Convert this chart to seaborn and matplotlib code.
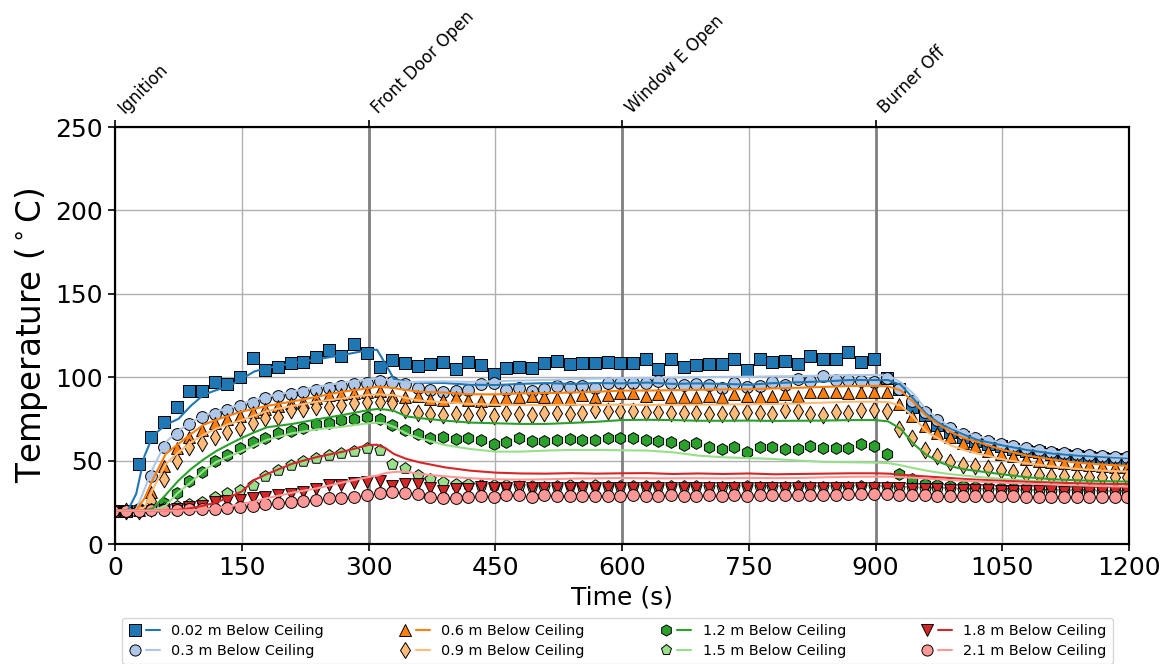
import numpy as np
import pandas as pd
import matplotlib
matplotlib.use("Agg")
import matplotlib.pyplot as plt
from matplotlib.lines import Line2D
from matplotlib.legend_handler import HandlerTuple
import seaborn as sns

# ---- measured thermocouple samples (every 15 s) ----
t_meas = np.arange(-2, 1200, 15)

tc_002 = [20, 20, 47.8, 64, 73, 82, 91.7, 91.7, 97, 96, 100, 111.3, 104.3, 106.3, 108.3, 109.3,
          112, 116.3, 112.7, 120, 114.3, 106, 110.3, 108.5, 107, 108, 109, 104.7, 109, 107.3,
          102, 105.7, 106.3, 105.3, 108.3, 109.7, 108, 108.7, 108.7, 109, 108.3, 108.3, 110.7,
          105, 110.7, 106.3, 107.5, 108, 108, 110.7, 104.3, 110.7, 109, 110, 107.7, 112.7, 111,
          110.7, 115.3, 109.3, 111, 99.5, 92.7, 82, 77.3, 71.3, 67.3, 64, 62, 60, 58.5, 57, 56,
          55, 54, 53.3, 52.8, 52.2, 51.6, 51.2, 50.8]
tc_03 = [20, 20, 21, 41, 58, 66, 72, 76, 77.7, 80.3, 82.7, 84.7, 87.7, 88.9, 89.7, 90.9, 92.3,
         93.3, 94.9, 95.7, 96.3, 97.9, 97, 95.7, 93.3, 92.3, 91.3, 91.9, 92.3, 95.7, 96.3, 92.3,
         93.7, 91.9, 92.7, 94.7, 93.9, 94.7, 93.3, 96.7, 96.7, 96.7, 96.7, 97.7, 96.3, 95.3, 95.7,
         95.3, 93.3, 96.3, 94, 94.5, 96.9, 95.3, 98.9, 97.7, 100.9, 98.3, 98.3, 97.5, 97.3, 99.3,
         92.7, 85.9, 79.3, 74.3, 69.4, 66, 63.4, 61.5, 60, 58.7, 57.5, 56.4, 55.4, 54.8, 54.2,
         53.6, 53, 52.4, 52]
tc_06 = [20, 20, 20.5, 31, 47, 57.4, 64, 68.3, 72.4, 74.8, 76.7, 79.3, 80.7, 82.7, 84.7, 85.3,
         87.3, 89.3, 89.9, 90.3, 91.3, 91.7, 89.3, 88.3, 88.9, 86.7, 86.3, 88.3, 86.3, 85.9, 86.3,
         87.3, 88.3, 89, 88.3, 87.3, 86.9, 89.3, 88.3, 89.3, 90.3, 90.3, 88.9, 89.7, 88.3, 88.3,
         88.3, 89, 88.3, 89.7, 88.9, 88.3, 88.6, 89.7, 88.9, 90.9, 90.9, 91.1, 90.7, 91.3, 91.3,
         91.3, 84, 76.7, 70.7, 66.5, 64.3, 60.5, 58.5, 56, 54, 52.8, 51, 50, 49, 48.4, 47.8, 47.4,
         46.8, 46.4, 46.2]
tc_09 = [20, 19.5, 20, 26, 39, 50, 58, 60.4, 64.3, 67.3, 69.4, 72.7, 75.3, 76, 80.3, 80.9, 82,
         82.3, 83.3, 84.7, 85.3, 85.3, 84.7, 80.3, 78.3, 78, 77.3, 78, 77.3, 78.3, 76.7, 78.7, 78,
         77.3, 78.7, 78.3, 78, 78.7, 80.3, 79.7, 79.7, 80, 79.3, 79.3, 78.3, 78.7, 78.3, 78, 78,
         78.7, 79, 78.3, 78, 80.3, 79.7, 78, 77.3, 79.3, 78.3, 80.3, 80.3, 79.8, 69, 63.8, 56.2,
         52.8, 49.4, 47.6, 46.6, 45.4, 44.4, 43.4, 42.2, 41.6, 41, 40.6, 40.4, 40.4, 40.3, 40.3,
         40.2]
tc_12 = [20, 20, 20, 21, 24.6, 30.4, 37.8, 43.4, 50, 53.4, 57.4, 61, 63.4, 66.4, 67.7, 69.4,
         71.8, 72.7, 74.3, 74.7, 76, 74.7, 71.3, 68.3, 66, 63.4, 64, 63, 63.4, 62.4, 60, 61.3,
         63.4, 61.5, 61.9, 62.4, 63, 62.4, 62.4, 63.7, 63.4, 63.4, 62.4, 62, 61.3, 59.4, 60.4, 58,
         56.8, 58, 55.4, 58, 58, 57.2, 57.2, 58.8, 57.8, 57.4, 57.4, 60, 58.9, 54, 42, 38.8, 36,
         35.5, 34.8, 34.5, 34.4, 34, 33.8, 33.5, 33.3, 33.1, 33, 32.8, 32.6, 32.5, 32.4, 32.3, 32.2]
tc_15 = [20, 20, 20, 20.5, 21.5, 22.5, 24, 25.4, 28.4, 30.4, 32.4, 35.6, 41, 44.4, 47.4, 49.8,
         51.4, 53.4, 54.8, 56, 57.4, 56.5, 47.8, 45.6, 41.2, 39, 37, 36, 36, 35.6, 35.2, 35.2,
         34.8, 34.6, 34.4, 35, 35.2, 35, 35.2, 35, 35, 34.8, 35, 34.8, 34.6, 34.5, 34.5, 34.3,
         34.4, 34.4, 34.5, 34.3, 34.3, 34.4, 34.5, 34.4, 34.3, 34.4, 34.4, 34.5, 34.4, 34, 33.8,
         33.6, 33.2, 33, 32.8, 32.6, 32.5, 32.4, 32.2, 32.1, 32, 31.9, 31.8, 31.7, 31.6, 31.5,
         31.4, 31.3, 31.2]
tc_18 = [20, 19, 19.5, 20, 20.5, 21, 22, 23, 25.4, 26, 26.5, 27.4, 28.4, 29.4, 29.8, 31.4, 32.8,
         35.4, 35.4, 36.8, 37.4, 38, 34.8, 36, 36, 33.4, 32, 32.8, 32.8, 34.4, 33.8, 33.8, 34,
         33.8, 33.8, 33.4, 33.6, 33.4, 33.6, 33.4, 33.6, 33.4, 33.6, 33.5, 33.4, 33.6, 33.5, 33.6,
         33.4, 33.8, 33.5, 33.4, 33.6, 33.5, 33.8, 33.6, 33.6, 33.4, 33.6, 33.8, 33.8, 33.6, 33.4,
         33.2, 33, 32.8, 32.6, 32.4, 32.3, 32.2, 32, 31.9, 31.8, 31.6, 31.5, 31.4, 31.3, 31.2,
         31.1, 31, 30.9]
tc_21 = [20, 20, 20, 20.2, 20.4, 20.6, 20.8, 21, 21.2, 21.8, 22.4, 22.8, 24, 24.4, 25, 26, 26.4,
         27.4, 27.8, 28.4, 29.4, 30.4, 31, 30.4, 30, 28.4, 27.4, 27.4, 28.4, 28.8, 28, 29.4, 29.4,
         28.4, 29.4, 28.8, 29, 28.8, 29, 28.8, 29, 29.2, 28.8, 29, 29.2, 28.8, 29, 29.2, 29, 29.2,
         29, 29.2, 29.4, 29.2, 29.4, 29.6, 29.4, 29.6, 29.8, 30, 30.2, 30, 29.6, 29.4, 29.2, 29,
         28.9, 28.8, 28.7, 28.6, 28.5, 28.5, 28.4, 28.4, 28.3, 28.3, 28.2, 28.2, 28.1, 28.1, 28]

# ---- smoothed / predicted curves ----
t_line = [0, 15, 25, 35, 45, 60, 75, 90, 105, 120, 135, 150, 165, 180, 210, 240, 270, 300, 310,
          320, 330, 345, 360, 390, 420, 450, 480, 510, 540, 570, 600, 630, 660, 690, 720, 750,
          780, 810, 840, 870, 900, 915, 930, 945, 960, 975, 990, 1005, 1020, 1050, 1080, 1110,
          1140, 1170, 1200]

ln_002 = [20, 20, 30, 53, 65, 71.5, 75, 83, 89.5, 92.3, 94.6, 99, 103.5, 105.5, 108.4, 110.8,
          113.4, 116.3, 116.5, 108, 99, 97.2, 96.7, 96.5, 95.5, 95.3, 96, 96.5, 96, 96.5, 96.3,
          96.8, 96, 96.3, 96, 95.5, 96.5, 97, 97.5, 98.3, 98.3, 98.3, 95.5, 87, 78, 72.5, 69,
          65.5, 62.5, 59.2, 56.3, 54.2, 53, 52.2, 51.5]
ln_03 = [20, 20, 20.5, 33, 45.5, 61, 68, 73, 77, 79.5, 81.6, 84.2, 86.5, 88.4, 91.4, 94.4, 96.8,
         98.7, 99.3, 98.6, 97.8, 97, 97.3, 97.5, 97.2, 97.6, 98, 98.4, 98.8, 99.2, 99.5, 99.6,
         99.8, 100, 100.2, 100.3, 100.5, 100.7, 101, 101.3, 101.3, 101, 97, 90, 80.5, 74.5, 70,
         67, 64.8, 60.5, 57.8, 55.6, 54.2, 53.2, 52.3]
ln_06 = [20, 20, 20, 27.5, 39, 54, 60, 66, 71.5, 74.5, 77, 79.5, 81, 82.8, 85.5, 88.4, 91.4,
         93.4, 94.3, 94, 93.5, 92.3, 91.3, 90.8, 89.8, 89.7, 90.3, 90.5, 90.8, 91.3, 92, 92, 92.2,
         92.5, 92.7, 92.8, 93.3, 93.7, 94.2, 94.7, 94.8, 94.5, 92, 85, 77, 71.5, 67, 63.5, 61.3,
         56.5, 53, 50.6, 48.7, 47.6, 46.8]
ln_09 = [20, 20, 20, 22, 33, 48, 55, 61, 65.6, 69.2, 72, 74.2, 77, 79.8, 82.8, 85.4, 87.4, 89.4,
         89.7, 89.5, 89.2, 87.5, 86, 85, 84, 83.5, 83.4, 83.3, 83.5, 83.4, 83.6, 83.4, 83.5, 83.6,
         83.6, 83.8, 84, 84.3, 84.8, 85.3, 85.3, 85, 83, 76, 67.5, 63, 59, 56.3, 54.4, 50.8, 48.3,
         46.5, 45, 44, 43.4]
ln_12 = [20, 20, 20, 20, 21.5, 29.5, 38, 45, 50.8, 55.8, 59.8, 63.6, 67, 70, 72, 74.8, 77.4,
         80.3, 80.9, 80.6, 79.8, 76.5, 75.5, 74, 72.8, 72.4, 72, 72, 72.6, 73.3, 74.3, 74.5, 74.3,
         73.9, 73.9, 74, 73.8, 73.9, 74, 74.3, 74.3, 73.5, 69, 60, 53.5, 49.2, 46.5, 44.8, 43.8,
         41.8, 40, 38.8, 38.2, 37.7, 37.4]
ln_15 = [20, 20, 20, 20, 20, 23, 31, 37, 44, 49.2, 52.6, 55.6, 59, 62.5, 66.4, 68.8, 70.4, 72.4,
         72.7, 72.2, 70.2, 66.2, 63.5, 59.4, 57, 55.4, 55.4, 56, 56.4, 56.4, 56.2, 56, 55, 53, 52,
         51.5, 51, 50, 49.2, 49, 48.8, 48.5, 47.2, 45.5, 44, 42.8, 41.8, 41, 40.3, 39, 38, 37.2,
         36.5, 36, 35.6]
ln_18 = [20, 20, 20, 20, 20, 20, 20.5, 21.5, 23, 25, 28, 31.5, 38.5, 42, 48.2, 52.3, 55.4, 59.4,
         59.5, 57.5, 54, 51, 49, 46, 44, 42.8, 42.3, 42.2, 42.5, 42.2, 42.4, 42.5, 42, 42.3, 42,
         42.3, 41.8, 42, 42.2, 42.4, 42.4, 42.2, 41.6, 41, 40.5, 40, 39.5, 39, 38.6, 37.9, 37.3,
         36.8, 36.4, 36.1, 35.9]
ln_21 = [20, 20, 20, 20, 20, 20, 20, 20.3, 20.8, 21.5, 22.6, 24, 25.5, 27.5, 30.8, 33.5, 37,
         40.2, 41, 42.5, 43.2, 43.4, 42, 40.6, 39.4, 38.8, 38.6, 38.8, 39.2, 39.4, 39.6, 39.4,
         39.4, 39.5, 39.4, 39.6, 39.5, 39.6, 40, 40.3, 40.4, 40.4, 40.1, 39.7, 39.2, 38.8, 38.3,
         37.9, 37.5, 36.8, 36.2, 35.6, 35.1, 34.7, 34.4]

labels = ["0.02 m Below Ceiling", "0.3 m Below Ceiling", "0.6 m Below Ceiling",
          "0.9 m Below Ceiling", "1.2 m Below Ceiling", "1.5 m Below Ceiling",
          "1.8 m Below Ceiling", "2.1 m Below Ceiling"]
measured = [tc_002, tc_03, tc_06, tc_09, tc_12, tc_15, tc_18, tc_21]
curves = [ln_002, ln_03, ln_06, ln_09, ln_12, ln_15, ln_18, ln_21]
markers = ["s", "o", "^", "d", "h", "p", "v", "o"]
colors = sns.color_palette("tab20", 8)

event_times = [0, 300, 600, 900]
event_names = ["Ignition", "Front Door Open", "Window E Open", "Burner Off"]

# ---- figure ----
sns.set_style("ticks")
plt.rcParams["font.family"] = ["DejaVu Sans"]
plt.rcParams["text.color"] = "black"
plt.rcParams["axes.labelcolor"] = "black"
plt.rcParams["xtick.color"] = "black"
plt.rcParams["ytick.color"] = "black"

fig = plt.figure(figsize=(11.69, 6.64), dpi=100)
ax = fig.add_axes([0.0984, 0.1807, 0.8674, 0.628])

ax.grid(True, color="#b0b0b0", linewidth=1.0, zorder=0)
for et in event_times[1:]:
    ax.axvline(et, color="0.5", linewidth=2.0, zorder=1)

for i in range(8):
    sns.scatterplot(x=t_meas, y=measured[i], marker=markers[i], s=72, color=colors[i],
                    edgecolor="black", linewidth=0.7, ax=ax, zorder=3 + i, legend=False)
for i in range(8):
    sns.lineplot(x=t_line, y=curves[i], color=colors[i], linewidth=1.5, ax=ax,
                 zorder=12, legend=False)

handles = []
for i in range(8):
    mk = Line2D([], [], linestyle="none", marker=markers[i], markersize=8,
                markerfacecolor=colors[i], markeredgecolor="black", markeredgewidth=0.7)
    ln = Line2D([], [], color=colors[i], linewidth=1.5)
    handles.append((mk, ln))

ax.set_xlim(0, 1200)
ax.set_ylim(0, 250)
ax.set_xticks(np.arange(0, 1201, 150))
ax.set_yticks(np.arange(0, 251, 50))
ax.tick_params(axis="both", labelsize=18, direction="out", length=5, width=1.2,
               top=False, right=False, colors="black")
ax.set_xlabel("Time (s)", fontsize=18, color="black")
ax.set_ylabel("Temperature ($^\\circ$C)", fontsize=23.5, color="black")
for sp in ax.spines.values():
    sp.set_visible(True)
    sp.set_color("black")
    sp.set_linewidth(1.5)

# event markers along the top
top = ax.twiny()
top.set_xlim(ax.get_xlim())
top.set_xticks(event_times)
top.set_xticklabels(event_names, rotation=45, ha="left", va="bottom", fontsize=12,
                    color="black")
top.tick_params(axis="x", direction="out", length=5, width=1.2, pad=2, colors="black")
for sp in top.spines.values():
    sp.set_linewidth(1.5)
    sp.set_color("black")

fig.legend(handles, labels, loc="upper center", bbox_to_anchor=(0.528, 0.080), ncol=4,
           fontsize=10.4, handler_map={tuple: HandlerTuple(ndivide=None, pad=0.3)},
           columnspacing=5.15, handlelength=2.2, labelspacing=0.45, borderpad=0.4)

fig.savefig("out.png", dpi=100)
